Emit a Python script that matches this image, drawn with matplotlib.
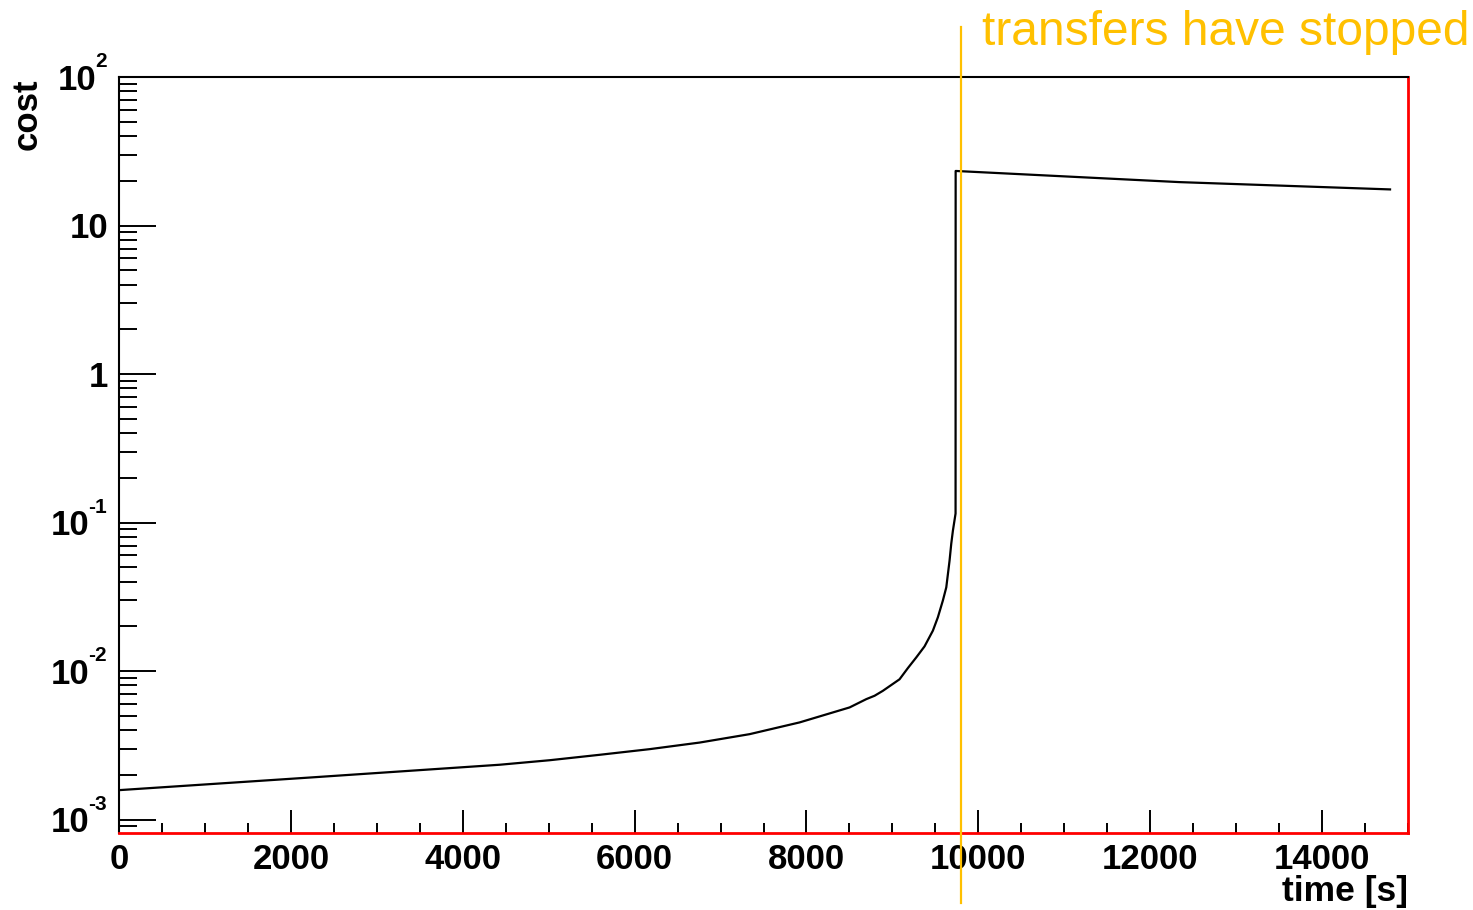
import matplotlib
matplotlib.use("Agg")
import matplotlib.pyplot as plt
from matplotlib.ticker import FixedLocator, NullFormatter, MultipleLocator, LogLocator
from matplotlib.transforms import offset_copy

# ---- data ----
time_s = [0, 2221, 4431, 5013, 5594, 6176, 6757, 7339, 7920, 8502, 8696,
          8793, 8889, 9083, 9180, 9278, 9374, 9471, 9529, 9587, 9627, 9665,
          9685, 9704, 9735, 9736, 12340, 14791]
cost = [1.578e-3, 1.919e-3, 2.34e-3, 2.51e-3, 2.73e-3, 2.98e-3, 3.30e-3,
        3.76e-3, 4.51e-3, 5.69e-3, 6.47e-3, 6.82e-3, 7.36e-3, 8.8e-3,
        0.01047, 0.01236, 0.01466, 0.0187, 0.0230, 0.0298, 0.0366, 0.0553,
        0.0721, 0.0881, 0.115, 23.3, 19.6, 17.5]
stop_time = 9801
stop_label = "transfers have stopped"

x_ticks = [0, 2000, 4000, 6000, 8000, 10000, 12000, 14000]
x_ticklabels = ["0", "2000", "4000", "6000", "8000", "10000", "12000", "14000"]
y_ticks = [1e-3, 1e-2, 1e-1, 1, 10, 100]
y_tick_base = ["10", "10", "10", "1", "10", "10"]
y_tick_exp = ["-3", "-2", "-1", "", "", "2"]

# ---- style ----
plt.rcParams["font.family"] = ["Liberation Sans", "DejaVu Sans"]
plt.rcParams["font.weight"] = "bold"

W, H = 1473, 910
fig = plt.figure(figsize=(W / 100, H / 100), dpi=100)
L, R, T, B = 119, 1408, 77, 833
ax = fig.add_axes([L / W, 1 - B / H, (R - L) / W, (B - T) / H])

ax.plot(time_s, cost, color="black", lw=1.6, zorder=3)

ax.set_yscale("log")
ax.set_xlim(0, 15000)
ax.set_ylim(8.12e-4, 100)

ax.xaxis.set_major_locator(FixedLocator(x_ticks))
ax.set_xticklabels(x_ticklabels)
ax.xaxis.set_minor_locator(MultipleLocator(500))
ax.yaxis.set_major_locator(FixedLocator(y_ticks))
ax.yaxis.set_major_formatter(NullFormatter())
ax.yaxis.set_minor_locator(LogLocator(base=10, subs=range(2, 10), numticks=20))
ax.yaxis.set_minor_formatter(NullFormatter())

ax.tick_params(axis="both", which="both", direction="in", top=False, right=False,
               colors="black", width=1.4)
ax.tick_params(axis="y", which="major", length=26.5)
ax.tick_params(axis="y", which="minor", length=13)
ax.tick_params(axis="x", which="major", length=16.5, pad=7, labelsize=25)
ax.tick_params(axis="x", which="minor", length=7.2)
for lab in ax.get_xticklabels():
    lab.set_fontweight("bold")

# y tick labels in ROOT style: base with small raised exponent
renderer = fig.canvas.get_renderer()
ytrans = ax.get_yaxis_transform()
for yv, base, exp in zip(y_ticks, y_tick_base, y_tick_exp):
    if exp:
        tr_e = offset_copy(ytrans, fig=fig, x=-12, y=6, units="dots")
        te = ax.text(0, yv, exp, transform=tr_e, fontsize=15, fontweight="bold",
                     ha="right", va="bottom")
        bb = te.get_window_extent(renderer)
        tr_b = offset_copy(ytrans, fig=fig, x=-12 - bb.width + 1, y=-3, units="dots")
        ax.text(0, yv, base, transform=tr_b, fontsize=25, fontweight="bold",
                ha="right", va="center")
    else:
        tr_b = offset_copy(ytrans, fig=fig, x=-11, y=-3, units="dots")
        ax.text(0, yv, base, transform=tr_b, fontsize=25, fontweight="bold",
                ha="right", va="center")

for side in ["top", "left"]:
    ax.spines[side].set_color("black")
    ax.spines[side].set_linewidth(1.5)
for side in ["bottom", "right"]:
    ax.spines[side].set_color("red")
    ax.spines[side].set_linewidth(2.0)

# vertical marker line extending beyond the axes
ax.axvline(stop_time, ymin=-(903 - B) / (B - T), ymax=1 + (T - 27) / (B - T),
           color="#FFC000", lw=1.6, clip_on=False, zorder=4)
fig.text(982 / W, 1 - 45 / H, stop_label, color="#FFC000", fontsize=34.5,
         fontweight="normal", ha="left", va="baseline")

fig.text(R / W, 1 - 901 / H, "time [s]", fontsize=25.5, fontweight="bold",
         ha="right", va="baseline")
fig.text(27 / W, 1 - 78 / H, "cost", fontsize=25, fontweight="bold",
         rotation=90, ha="center", va="top")

fig.savefig("out.png", dpi=100)
